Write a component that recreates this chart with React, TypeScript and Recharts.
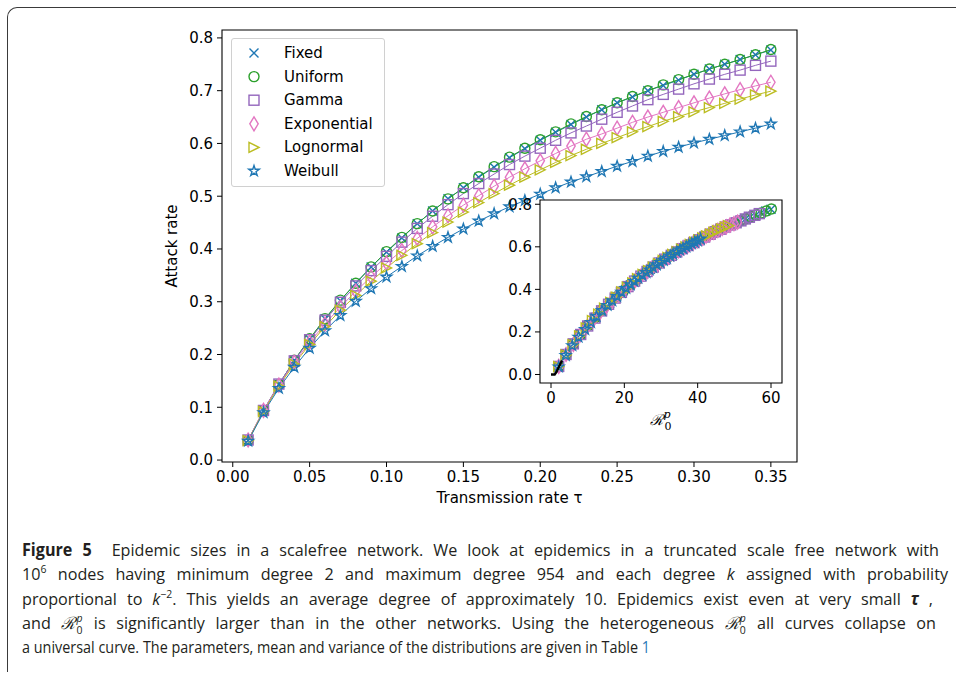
import React from "react";
import { LineChart, Line, XAxis, YAxis, ReferenceArea, ScatterChart, Scatter, Label } from "recharts";

// transmission rates (x of the main panel)
const tau = [
  0.01, 0.02, 0.03, 0.04, 0.05, 0.06, 0.07, 0.08, 0.09, 0.1, 0.11, 0.12, 0.13, 0.14, 0.15, 0.16, 0.17, 0.18,
  0.19, 0.2, 0.21, 0.22, 0.23, 0.24, 0.25, 0.26, 0.27, 0.28, 0.29, 0.3, 0.31, 0.32, 0.33, 0.34, 0.35,
];

// attack rates per infectious period distribution
const fixedRate = [
  0.037, 0.093, 0.143, 0.189, 0.229, 0.268, 0.302, 0.335, 0.366, 0.394, 0.421, 0.448, 0.472, 0.495, 0.516, 0.536,
  0.555, 0.573, 0.59, 0.606, 0.621, 0.636, 0.65, 0.664, 0.677, 0.688, 0.7, 0.71, 0.72, 0.731, 0.741, 0.75, 0.759,
  0.768, 0.777,
];
const uniformRate = [
  0.037, 0.094, 0.143, 0.189, 0.23, 0.268, 0.303, 0.335, 0.366, 0.395, 0.422, 0.448, 0.472, 0.495, 0.516, 0.537,
  0.556, 0.574, 0.591, 0.607, 0.622, 0.637, 0.651, 0.664, 0.677, 0.689, 0.7, 0.711, 0.721, 0.731, 0.741, 0.75,
  0.759, 0.768, 0.778,
];
const gammaRate = [
  0.038, 0.094, 0.144, 0.188, 0.228, 0.265, 0.299, 0.33, 0.359, 0.386, 0.413, 0.439, 0.462, 0.484, 0.505, 0.524,
  0.542, 0.56, 0.576, 0.591, 0.606, 0.62, 0.633, 0.646, 0.659, 0.671, 0.683, 0.693, 0.703, 0.713, 0.722, 0.731,
  0.739, 0.748, 0.756,
];
const exponentialRate = [
  0.038, 0.094, 0.142, 0.185, 0.223, 0.258, 0.29, 0.32, 0.347, 0.373, 0.397, 0.42, 0.442, 0.463, 0.483, 0.501,
  0.519, 0.536, 0.552, 0.567, 0.581, 0.595, 0.608, 0.618, 0.629, 0.64, 0.65, 0.659, 0.668, 0.677, 0.686, 0.694,
  0.702, 0.709, 0.716,
];
const lognormalRate = [
  0.037, 0.092, 0.14, 0.182, 0.219, 0.253, 0.284, 0.312, 0.339, 0.364, 0.388, 0.41, 0.431, 0.451, 0.47, 0.488,
  0.505, 0.521, 0.536, 0.55, 0.564, 0.577, 0.589, 0.6, 0.611, 0.622, 0.632, 0.642, 0.651, 0.66, 0.668, 0.676,
  0.684, 0.692, 0.699,
];
const weibullRate = [
  0.036, 0.09, 0.136, 0.176, 0.212, 0.245, 0.274, 0.301, 0.325, 0.347, 0.367, 0.387, 0.405, 0.422, 0.438, 0.453,
  0.467, 0.48, 0.492, 0.504, 0.516, 0.527, 0.537, 0.547, 0.557, 0.566, 0.576, 0.585, 0.593, 0.601, 0.608, 0.615,
  0.622, 0.629, 0.637,
];

// heterogeneous R0^p per point (x of the inset)
const fixedR0 = [
  2.1, 4.1, 6.1, 8.1, 10.1, 12.1, 14.0, 16.0, 17.9, 19.7, 21.6, 23.4, 25.3, 27.1, 28.8, 30.6, 32.3, 34.0, 35.7,
  37.4, 39.1, 40.7, 42.3, 43.9, 45.5, 47.0, 48.5, 50.0, 51.5, 53.0, 54.4, 55.9, 57.3, 58.6, 60.0,
];
const uniformR0 = [
  2.1, 4.1, 6.1, 8.1, 10.1, 12.1, 14.0, 16.0, 17.9, 19.8, 21.6, 23.5, 25.3, 27.1, 28.9, 30.6, 32.3, 34.0, 35.7,
  37.4, 39.1, 40.7, 42.3, 43.9, 45.5, 47.0, 48.5, 50.0, 51.5, 53.0, 54.5, 55.9, 57.3, 58.7, 60.1,
];
const gammaR0 = [
  2.1, 4.1, 6.1, 8.1, 10.0, 12.0, 13.8, 15.7, 17.5, 19.2, 21.0, 22.8, 24.5, 26.2, 27.9, 29.5, 31.0, 32.8, 34.3,
  35.8, 37.4, 39.0, 40.4, 41.9, 43.4, 44.8, 46.3, 47.6, 49.0, 50.5, 51.8, 53.0, 54.1, 55.6, 56.8,
];
const exponentialR0 = [
  2.1, 4.1, 6.1, 7.9, 9.8, 11.6, 13.3, 15.1, 16.7, 18.4, 19.9, 21.5, 23.0, 24.6, 26.2, 27.6, 29.1, 30.6, 32.0,
  33.4, 34.8, 36.2, 37.6, 38.8, 40.0, 41.2, 42.3, 43.3, 44.4, 45.5, 46.7, 47.8, 48.8, 49.9, 50.9,
];
const lognormalR0 = [
  2.1, 4.1, 6.0, 7.8, 9.6, 11.3, 13.0, 14.6, 16.3, 17.8, 19.3, 20.8, 22.3, 23.6, 25.1, 26.6, 27.9, 29.3, 30.6,
  31.9, 33.2, 34.4, 35.6, 36.8, 38.0, 39.2, 40.3, 41.4, 42.4, 43.5, 44.4, 45.4, 46.5, 47.5, 48.4,
];
const weibullR0 = [
  2.1, 4.0, 5.8, 7.5, 9.3, 10.9, 12.4, 13.9, 15.4, 16.7, 18.0, 19.2, 20.5, 21.7, 22.7, 23.8, 24.9, 26.0, 26.9,
  27.8, 28.8, 29.8, 30.7, 31.6, 32.5, 33.3, 34.3, 35.2, 36.0, 36.9, 37.6, 38.4, 39.2, 40.0, 40.8,
];

// black reference curve near the origin of the inset
const curveR0 = [0, 1, 1.5, 2, 2.5, 3];
const curveRate = [0, 0, 0.012, 0.03, 0.048, 0.066];

const xTicks = [0, 0.05, 0.1, 0.15, 0.2, 0.25, 0.3, 0.35];
const yTicks = [0, 0.1, 0.2, 0.3, 0.4, 0.5, 0.6, 0.7, 0.8];
const insetXTicks = [0, 20, 40, 60];
const insetYTicks = [0, 0.2, 0.4, 0.6, 0.8];

const C0 = "#1f77b4";
const C2 = "#2ca02c";
const C4 = "#9467bd";
const C6 = "#e377c2";
const C8 = "#bcbd22";

type Kind = "x" | "o" | "s" | "d" | ">" | "*";

const series: { key: string; name: string; color: string; kind: Kind; rate: number[]; r0: number[] }[] = [
  { key: "fixed", name: "Fixed", color: C0, kind: "x", rate: fixedRate, r0: fixedR0 },
  { key: "uniform", name: "Uniform", color: C2, kind: "o", rate: uniformRate, r0: uniformR0 },
  { key: "gamma", name: "Gamma", color: C4, kind: "s", rate: gammaRate, r0: gammaR0 },
  { key: "exponential", name: "Exponential", color: C6, kind: "d", rate: exponentialRate, r0: exponentialR0 },
  { key: "lognormal", name: "Lognormal", color: C8, kind: ">", rate: lognormalRate, r0: lognormalR0 },
  { key: "weibull", name: "Weibull", color: C0, kind: "*", rate: weibullRate, r0: weibullR0 },
];

const mainData = tau.map((t, i) => {
  const row: Record<string, number> = { tau: t };
  series.forEach((s) => (row[s.key] = s.rate[i]));
  return row;
});

const curveData = curveR0.map((x, i) => ({ x, y: curveRate[i] }));

const FONT = "DejaVu Sans, sans-serif";
const tickStyle = { fill: "#000", fontSize: 15, fontFamily: FONT };

function starPath(cx: number, cy: number, R: number) {
  const r = R * 0.382;
  let d = "";
  for (let k = 0; k < 10; k++) {
    const a = -Math.PI / 2 + (k * Math.PI) / 5;
    const rad = k % 2 === 0 ? R : r;
    d += (k === 0 ? "M" : "L") + (cx + rad * Math.cos(a)).toFixed(2) + "," + (cy + rad * Math.sin(a)).toFixed(2);
  }
  return d + "Z";
}

function Marker({ kind, cx, cy, color }: { kind: Kind; cx?: number; cy?: number; color: string }) {
  if (cx == null || cy == null || isNaN(cx) || isNaN(cy)) return <g />;
  const common = { stroke: color, strokeWidth: 1.4, fill: "none" };
  switch (kind) {
    case "x":
      return <path d={`M${cx - 4.5},${cy - 4.5}L${cx + 4.5},${cy + 4.5}M${cx - 4.5},${cy + 4.5}L${cx + 4.5},${cy - 4.5}`} {...common} />;
    case "o":
      return <circle cx={cx} cy={cy} r={5} {...common} />;
    case "s":
      return <rect x={cx - 5} y={cy - 5} width={10} height={10} {...common} />;
    case "d":
      return <path d={`M${cx},${cy - 7}L${cx + 4.2},${cy}L${cx},${cy + 7}L${cx - 4.2},${cy}Z`} {...common} />;
    case ">":
      return <path d={`M${cx + 5},${cy}L${cx - 5},${cy - 5}L${cx - 5},${cy + 5}Z`} {...common} />;
    default:
      return <path d={starPath(cx, cy, 5.5)} {...common} strokeLinejoin="miter" />;
  }
}

function InsetLabel(props: any) {
  const vb = props.viewBox || { x: 0, y: 0, width: 0 };
  const x = vb.x + vb.width / 2;
  const y = vb.y + 42;
  return (
    <text x={x} y={y} textAnchor="middle" fontSize={15} fill="#000" fontFamily="DejaVu Serif, serif">
      <tspan fontStyle="italic">ℛ</tspan>
      <tspan dy={-7} fontSize={11} fontStyle="italic">p</tspan>
      <tspan dx={-6} dy={12} fontSize={11}>0</tspan>
    </text>
  );
}

// caption helpers
const sup = { fontSize: 11, position: "relative" as const, top: -7 };

function RZero() {
  return (
    <span style={{ whiteSpace: "nowrap" }}>
      <span style={{ fontFamily: "DejaVu Serif, serif", fontStyle: "italic" }}>ℛ</span>
      <span style={{ display: "inline-block", position: "relative", width: 8, height: 10 }}>
        <span style={{ position: "absolute", left: 1, top: -9, fontSize: 11, fontStyle: "italic", lineHeight: "15px" }}>p</span>
        <span style={{ position: "absolute", left: 1, top: 3, fontSize: 11, lineHeight: "15px" }}>0</span>
      </span>
    </span>
  );
}

function CaptionLine({
  top,
  width,
  squeeze,
  justify,
  children,
}: {
  top: number;
  width: number;
  squeeze: number;
  justify: boolean;
  children: React.ReactNode;
}) {
  return (
    <div
      style={{
        position: "absolute",
        left: 22,
        top,
        width: width / squeeze,
        fontFamily: "Open Sans, sans-serif",
        fontSize: 17,
        lineHeight: "24px",
        color: "#231f20",
        textAlign: justify ? "justify" : "left",
        textAlignLast: justify ? "justify" : "left",
        transform: `scaleX(${squeeze})`,
        transformOrigin: "0 0",
      }}
    >
      {children}
    </div>
  );
}

export default function App() {
  return (
    <div style={{ position: "absolute", left: 0, top: 0, width: 956, height: 672, background: "#fff", overflow: "hidden" }}>
      <div
        style={{
          position: "absolute",
          left: 7,
          top: 7,
          width: 949,
          height: 665,
          borderTop: "1.5px solid #3a3a3a",
          borderLeft: "1.5px solid #3a3a3a",
          borderTopLeftRadius: 10,
        }}
      />

      {/* main panel */}
      <div style={{ position: "absolute", left: 0, top: 0 }}>
        <LineChart width={956} height={520} data={mainData} margin={{ top: 30, right: 159, bottom: 13, left: 162 }}>
          <XAxis
            dataKey="tau"
            type="number"
            domain={[-0.007, 0.367]}
            ticks={xTicks}
            allowDataOverflow
            tickFormatter={(v: number) => v.toFixed(2)}
            tick={tickStyle}
            tickSize={5}
            tickMargin={4}
            axisLine={false}
            tickLine={{ stroke: "#000" }}
            height={45}
          >
            <Label
              content={(p: any) => (
                <text x={p.viewBox.x + p.viewBox.width / 2} y={503} textAnchor="middle" fontSize={15} fontFamily={FONT} fill="#000">
                  Transmission rate τ
                </text>
              )}
            />
          </XAxis>
          <YAxis
            type="number"
            domain={[-0.0037, 0.815]}
            ticks={yTicks}
            allowDataOverflow
            tickFormatter={(v: number) => v.toFixed(1)}
            tick={tickStyle}
            tickSize={5}
            tickMargin={4}
            axisLine={false}
            tickLine={{ stroke: "#000" }}
            width={60}
          >
            <Label
              content={(p: any) => (
                <text
                  x={172}
                  y={p.viewBox.y + p.viewBox.height / 2}
                  transform={`rotate(-90 172 ${p.viewBox.y + p.viewBox.height / 2})`}
                  textAnchor="middle"
                  dominantBaseline="central"
                  fontSize={15}
                  fontFamily={FONT}
                  fill="#000"
                >
                  Attack rate
                </text>
              )}
            />
          </YAxis>
          <ReferenceArea x1={-0.007} x2={0.367} y1={-0.0037} y2={0.815} fill="none" stroke="#000" strokeWidth={1.1} ifOverflow="visible" />
          {series.map((s) => (
            <Line
              key={s.key}
              dataKey={s.key}
              name={s.name}
              type="linear"
              stroke={s.color}
              strokeWidth={1}
              activeDot={false}
              isAnimationActive={false}
              dot={(p: any) => <Marker key={`${s.key}-${p.index}`} kind={s.kind} cx={p.cx} cy={p.cy} color={s.color} />}
            />
          ))}
        </LineChart>
      </div>

      {/* legend */}
      <div
        style={{
          position: "absolute",
          left: 231,
          top: 38,
          width: 152,
          height: 147,
          border: "1px solid #d0d0d0",
          borderRadius: 3,
          background: "rgba(255,255,255,0.8)",
        }}
      >
        <svg width={152} height={147}>
          {series.map((s, i) => {
            const y = 14 + i * 23.6;
            return (
              <g key={s.key}>
                <Marker kind={s.kind} cx={22} cy={y} color={s.color} />
                <text x={52} y={y} dominantBaseline="central" fontSize={15} fontFamily={FONT} fill="#000">
                  {s.name}
                </text>
              </g>
            );
          })}
        </svg>
      </div>

      {/* inset */}
      <div style={{ position: "absolute", left: 480, top: 190 }}>
        <ScatterChart width={320} height={245} margin={{ top: 10, right: 18, bottom: 7, left: 20 }}>
          <XAxis
            dataKey="x"
            type="number"
            domain={[-3, 63]}
            ticks={insetXTicks}
            allowDataOverflow
            tick={tickStyle}
            tickSize={5}
            tickMargin={4}
            axisLine={false}
            tickLine={{ stroke: "#000" }}
            height={45}
          >
            <Label content={InsetLabel} />
          </XAxis>
          <YAxis
            dataKey="y"
            type="number"
            domain={[-0.04, 0.82]}
            ticks={insetYTicks}
            allowDataOverflow
            tickFormatter={(v: number) => v.toFixed(1)}
            tick={tickStyle}
            tickSize={5}
            tickMargin={3}
            axisLine={false}
            tickLine={{ stroke: "#000" }}
            width={40}
          />
          <ReferenceArea x1={-3} x2={63} y1={-0.04} y2={0.82} fill="#fff" stroke="#000" strokeWidth={1.1} ifOverflow="visible" />
          {series.map((s) => (
            <Scatter
              key={s.key}
              name={s.name}
              data={s.r0.map((x, i) => ({ x, y: s.rate[i] }))}
              isAnimationActive={false}
              shape={(p: any) => <Marker kind={s.kind} cx={p.cx} cy={p.cy} color={s.color} />}
            />
          ))}
          <Scatter
            name="curve"
            data={curveData}
            line={{ stroke: "#000", strokeWidth: 2.4 }}
            shape={() => <g />}
            isAnimationActive={false}
          />
        </ScatterChart>
      </div>

      {/* caption */}
      <CaptionLine top={538} width={917} squeeze={0.95} justify>
        <b>Figure 5</b>
        {"\u00a0 Epidemic sizes in a scalefree network. We look at epidemics in a truncated scale free network with"}
      </CaptionLine>
      <CaptionLine top={562} width={926} squeeze={0.95} justify>
        10<span style={sup}>6</span>
        {" nodes having minimum degree 2 and maximum degree 954 and each degree "}
        <i>k</i>
        {" assigned with probability"}
      </CaptionLine>
      <CaptionLine top={587} width={911} squeeze={0.95} justify>
        {"proportional to "}
        <i>k</i>
        <span style={sup}>−2</span>
        {". This yields an average degree of approximately 10. Epidemics exist even at very small "}
        <b>
          <i>τ</i>
        </b>
        {"\u00a0,"}
      </CaptionLine>
      <CaptionLine top={611} width={914} squeeze={0.95} justify>
        {"and "}
        <RZero />
        {" is significantly larger than in the other networks. Using the heterogeneous "}
        <RZero />
        {" all curves collapse on"}
      </CaptionLine>
      <CaptionLine top={635} width={628} squeeze={0.846} justify>
        {"a universal curve. The parameters, mean and variance of the distributions are given in Table "}
        <span style={{ color: "#2a7ab8" }}>1</span>
      </CaptionLine>
    </div>
  );
}
